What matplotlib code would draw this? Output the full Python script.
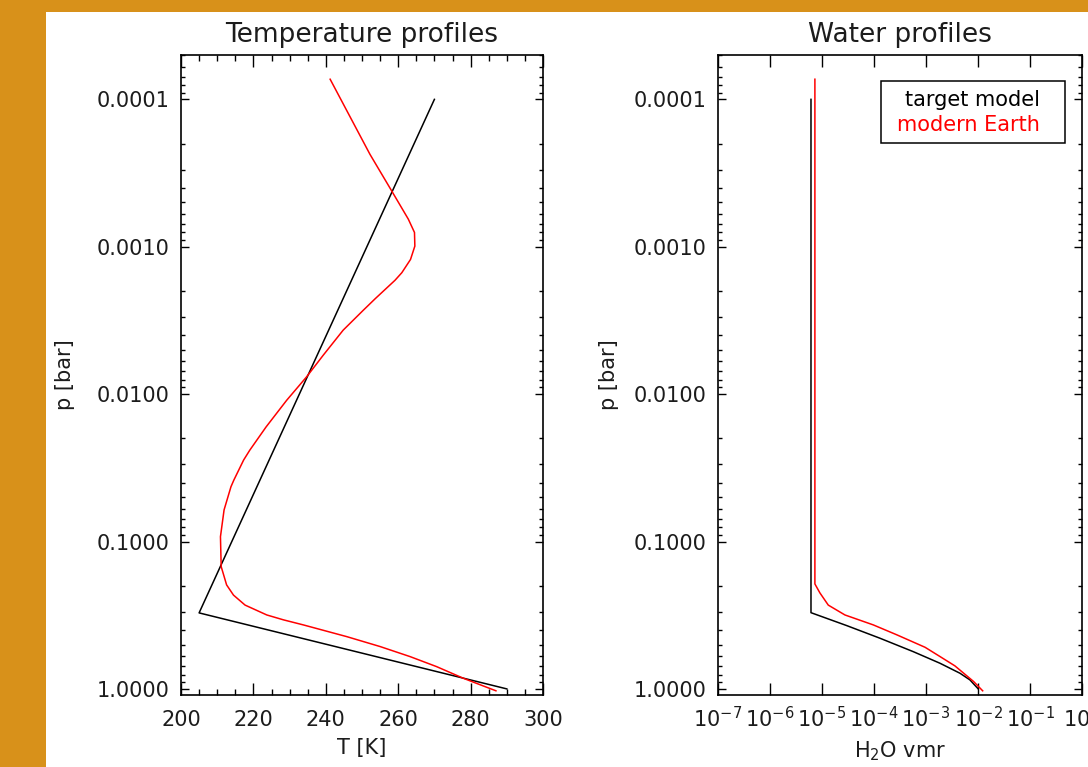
import math
import matplotlib
matplotlib.use("Agg")
import matplotlib.pyplot as plt
from matplotlib.patches import Rectangle
from matplotlib.ticker import FixedLocator, MultipleLocator, LogLocator, NullFormatter, FuncFormatter, NullLocator

plt.rcParams['font.family'] = ['DejaVu Sans']
plt.rcParams['mathtext.default'] = 'regular'

# ---- data ----
# Temperature profiles
target_T_p = [1e-4, 0.305, 1.0]
target_T = [270.0, 205.0, 290.0]

earth_T_p = [7.3e-5, 2.36e-4, 4.18e-4, 6.5e-4, 8.0e-4, 9.9e-4, 1.22e-3, 1.5e-3,
             1.69e-3, 2.245e-3, 2.69e-3, 3.68e-3, 5.44e-3, 7.63e-3, 0.011, 0.0167,
             0.024, 0.028, 0.0383, 0.0425, 0.061, 0.0927, 0.148, 0.197, 0.231,
             0.27, 0.315, 0.34, 0.368, 0.442, 0.516, 0.604, 0.706, 0.847, 0.955, 1.03]
earth_T = [241.2, 252.2, 258.2, 262.8, 264.5, 264.6, 263.4, 261.0,
           259.1, 253.7, 250.4, 244.8, 239.3, 234.7, 229.2, 223.5,
           219.0, 217.3, 214.6, 213.8, 211.9, 210.9, 211.1, 212.6, 214.5,
           217.7, 223.7, 228.3, 233.8, 245.8, 255.0, 263.3, 270.6, 278.0, 283.5, 287.0]

# Water profiles
target_w_p = [1e-4, 0.304, 0.372, 0.453, 0.559, 0.670, 0.783, 0.869, 1.0]
target_w = [6.14e-6, 6.14e-6, 2.99e-5, 1.30e-4, 5.70e-4, 1.86e-3, 4.5e-3, 7.0e-3, 1.01e-2]

earth_w_p = [7.3e-5, 0.194, 0.223, 0.27, 0.315, 0.368, 0.43, 0.522, 0.604,
             0.698, 0.89, 1.03]
earth_w = [7.3e-6, 7.3e-6, 9.1e-6, 1.32e-5, 2.76e-5, 9.7e-5, 2.76e-4, 9.6e-4,
           1.87e-3, 3.6e-3, 8.2e-3, 1.23e-2]

T_ticks = [200, 220, 240, 260, 280, 300]
p_ticks = [1e-4, 1e-3, 1e-2, 1e-1, 1.0]
w_exps = [-7, -6, -5, -4, -3, -2, -1, 0]
legend_labels = ["target model", "modern Earth"]
colors = ["black", "red"]

# ---- figure ----
W, H = 1088, 767
fig = plt.figure(figsize=(W / 100, H / 100), dpi=100)
fig.patch.set_facecolor('#D8911A')
fig.patches.append(Rectangle((46 / W, 0), 1 - 46 / W, (H - 12) / H,
                             transform=fig.transFigure, facecolor='white',
                             edgecolor='none', zorder=-10))

bottom = (H - 695) / H
height = 640 / H
axL = fig.add_axes([181 / W, bottom, 362 / W, height])
axR = fig.add_axes([718 / W, bottom, 364 / W, height])

fs_tick = 15
fs_title = 19
txtc = '#1c1c1c'

for ax in (axL, axR):
    ax.set_yscale('log')
    ax.set_ylim(1.1, 5e-5)
    ax.yaxis.set_major_locator(FixedLocator(p_ticks))
    ax.yaxis.set_minor_locator(LogLocator(base=10, subs=[2, 3, 4, 5, 6, 7, 8, 9], numticks=20))
    ax.yaxis.set_minor_formatter(NullFormatter())
    ax.yaxis.set_major_formatter(FuncFormatter(lambda v, pos: '%.4f' % v))
    ax.tick_params(axis='both', which='both', direction='in', top=True, right=True,
                   labelsize=fs_tick, colors='black', labelcolor=txtc)
    ax.tick_params(axis='x', which='major', length=8.6, width=1.0, pad=11)
    ax.tick_params(axis='x', which='minor', length=4.3, width=1.0)
    ax.tick_params(axis='y', which='major', length=5.8, width=1.0, pad=8)
    ax.tick_params(axis='y', which='minor', length=2.9, width=1.0)
    for s in ax.spines.values():
        s.set_linewidth(1.2)
        s.set_color('black')
    ax.set_ylabel('p [bar]', fontsize=fs_tick, color=txtc)

# Left panel
axL.plot(target_T, target_T_p, color=colors[0], lw=1.1)
axL.plot(earth_T, earth_T_p, color=colors[1], lw=1.1)
axL.set_xlim(200, 300)
axL.xaxis.set_major_locator(FixedLocator(T_ticks))
axL.xaxis.set_minor_locator(MultipleLocator(5))
axL.set_title('Temperature profiles', fontsize=fs_title, color=txtc, pad=9)
axL.set_xlabel('T [K]', fontsize=fs_tick, color=txtc)
axL.yaxis.set_label_coords((75 - 181) / 362, 0.5)
axL.xaxis.set_label_coords(0.5, (695 - 748) / 640)
axL.xaxis.label.set_verticalalignment('center')

# Right panel
axR.plot(target_w, target_w_p, color=colors[0], lw=1.1)
axR.plot(earth_w, earth_w_p, color=colors[1], lw=1.1)
axR.set_xscale('log')
axR.set_xlim(1e-7, 1.0)
axR.xaxis.set_major_locator(FixedLocator([10.0 ** e for e in w_exps]))
axR.xaxis.set_minor_locator(NullLocator())
axR.xaxis.set_major_formatter(FuncFormatter(
    lambda v, pos: r'$10^{%d}$' % round(math.log10(v))))
axR.tick_params(axis='x', which='major', pad=8)
axR.set_title('Water profiles', fontsize=fs_title, color=txtc, pad=9)
axR.set_xlabel(r'$H_2O$ vmr', fontsize=fs_tick, color=txtc)
axR.yaxis.set_label_coords((619 - 718) / 364, 0.5)
axR.xaxis.set_label_coords(0.5, (695 - 751) / 640)
axR.xaxis.label.set_verticalalignment('center')

# Legend box
axR.add_patch(Rectangle((0.448, 0.8625), 0.953 - 0.448, 0.959 - 0.8625,
                        transform=axR.transAxes, facecolor='white',
                        edgecolor='black', lw=1.1, zorder=5))
axR.text(0.8846, 0.9297, legend_labels[0], transform=axR.transAxes, ha='right',
         va='center', fontsize=fs_tick, color=colors[0], zorder=6)
axR.text(0.8846, 0.8906, legend_labels[1], transform=axR.transAxes, ha='right',
         va='center', fontsize=fs_tick, color=colors[1], zorder=6)

fig.savefig('out.png', dpi=100, facecolor=fig.get_facecolor())
